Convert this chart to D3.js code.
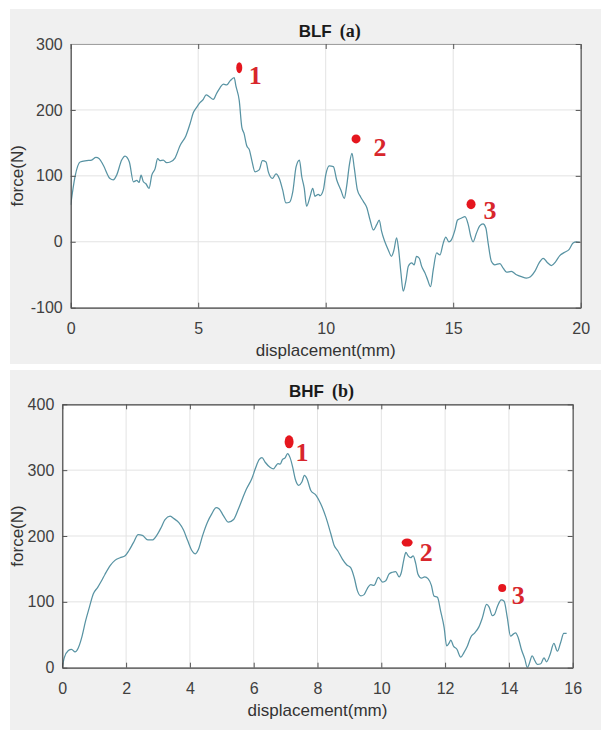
<!DOCTYPE html>
<html>
<head>
<meta charset="utf-8">
<script src="https://cdn.jsdelivr.net/npm/d3@7/dist/d3.min.js"></script>
<style>
  html, body { margin: 0; padding: 0; background: #ffffff; }
  svg { display: block; }
</style>
</head>
<body>
<svg id="chart" width="601" height="733"></svg>
<script>
// ---------------- DATA ----------------
const blfX = [0,0.17,0.37,0.63,0.82,0.99,1.12,1.28,1.54,1.67,
  1.8,2.0,2.13,2.3,2.46,2.59,2.68,2.76,2.85,2.95,
  3.07,3.18,3.31,3.41,3.5,3.63,3.76,3.9,4.09,4.29,
  4.52,4.68,4.81,4.94,5.07,5.2,5.31,5.44,5.59,5.72,
  5.86,5.99,6.12,6.25,6.41,6.48,6.61,6.71,6.8,6.9,
  7.01,7.1,7.23,7.39,7.52,7.66,7.75,7.91,8.05,8.18,
  8.31,8.44,8.58,8.71,8.84,8.97,9.06,9.16,9.25,9.39,
  9.49,9.58,9.71,9.78,9.91,10.0,10.14,10.3,10.43,10.59,
  10.73,10.82,10.93,11.03,11.12,11.24,11.37,11.48,11.61,11.74,
  11.87,12.0,12.1,12.19,12.32,12.45,12.58,12.68,12.78,12.86,
  12.95,13.04,13.15,13.24,13.37,13.47,13.56,13.67,13.76,13.89,
  14.0,14.11,14.22,14.35,14.48,14.61,14.71,14.83,14.93,15.07,
  15.17,15.33,15.46,15.59,15.69,15.78,15.91,16.04,16.17,16.28,
  16.37,16.5,16.63,16.83,16.96,17.09,17.28,17.48,17.68,17.87,
  18.03,18.2,18.37,18.53,18.68,18.85,19.02,19.18,19.37,19.54,
  19.7,19.83,19.96];
const blfY = [56,99,121,123,124,128,126,116,96,94,
  101,124,130,121,91,93,90,101,91,88,
  81,101,111,126,123,124,120,121,127,146,
  161,179,196,204,211,216,223,220,216,225,
  234,239,238,244,249,236,214,174,164,146,
  139,124,106,109,123,121,106,96,103,96,
  79,59,60,76,114,124,99,81,54,69,
  81,69,72,70,79,101,115,114,94,79,
  66,84,117,134,112,79,68,61,52,33,
  18,26,33,16,0,-12,-22,-12,6,-12,
  -47,-75,-58,-37,-32,-35,-22,-25,-37,-47,
  -58,-68,-42,-17,-20,-2,7,0,3,18,
  33,36,38,26,8,0,13,24,27,21,
  -2,-30,-35,-33,-40,-46,-45,-50,-53,-55,
  -53,-45,-32,-25,-31,-36,-30,-21,-16,-12,
  -2,0,-1];

const bhfX = [0,0.06,0.19,0.29,0.4,0.5,0.61,0.73,0.85,0.97,
  1.11,1.23,1.34,1.5,1.65,1.81,1.97,2.09,2.23,2.38,
  2.51,2.68,2.82,2.96,3.1,3.22,3.38,3.51,3.66,3.8,
  3.93,4.06,4.16,4.27,4.4,4.55,4.69,4.82,4.92,5.05,
  5.21,5.37,5.52,5.65,5.78,5.94,6.05,6.17,6.26,6.36,
  6.52,6.62,6.69,6.76,6.83,6.9,6.99,7.06,7.14,7.22,
  7.3,7.41,7.51,7.59,7.67,7.79,7.95,8.1,8.26,8.42,
  8.52,8.63,8.78,8.92,9.04,9.15,9.25,9.36,9.46,9.57,
  9.67,9.77,9.91,10.04,10.14,10.24,10.35,10.45,10.56,10.63,
  10.71,10.77,10.84,10.92,11.0,11.08,11.15,11.26,11.36,11.47,
  11.57,11.65,11.76,11.86,11.97,12.05,12.12,12.18,12.26,12.37,
  12.49,12.59,12.7,12.8,12.93,13.06,13.17,13.3,13.38,13.48,
  13.55,13.64,13.76,13.85,13.95,14.05,14.14,14.21,14.29,14.39,
  14.5,14.58,14.63,14.73,14.81,14.89,15.0,15.1,15.18,15.29,
  15.41,15.52,15.62,15.72,15.81];
const bhfY = [1,15,26,28,24,30,46,71,92,112,
  122,132,142,155,163,167,170,178,190,202,
  201,194,194,201,213,225,230,226,220,209,
  193,178,173,180,201,221,234,243,241,231,
  221,225,241,257,272,287,302,316,319,312,
  304,302,306,310,309,316,319,325,319,305,
  287,277,282,292,287,269,262,249,229,203,
  186,178,165,156,152,137,117,109,111,121,
  126,125,137,130,132,142,145,146,138,145,
  165,175,170,167,170,158,142,136,138,135,
  125,109,107,86,61,33,37,42,33,28,
  16,23,33,46,53,62,76,96,92,79,
  81,93,103,101,76,48,51,53,46,28,
  13,0,5,18,11,5,6,15,9,20,
  37,25,38,52,52];

const blfPeakX = [6.61, 11.19, 15.7];
const blfPeakY = [264, 156, 57];
const bhfPeakX = [7.11, 10.81, 13.79];
const bhfPeakY = [343, 190, 121];
const peakLabels = ["1", "2", "3"];

const blfXTicks = [0, 5, 10, 15, 20];
const blfYTicks = [-100, 0, 100, 200, 300];
const bhfXTicks = [0, 2, 4, 6, 8, 10, 12, 14, 16];
const bhfYTicks = [0, 100, 200, 300, 400];

const titles = [["BLF", "(a)"], ["BHF", "(b)"]];
const xLabel = "displacement(mm)";
const yLabel = "force(N)";

// ---------------- LAYOUT / STYLE ----------------
const panels = [
  { bg: [10, 9, 591, 355], left: 70.7, right: 580.7, top: 44, bottom: 307.7,
    xDomain: [0, 20], yDomain: [-100, 300], xTicks: blfXTicks, yTicks: blfYTicks,
    xs: blfX, ys: blfY, px: blfPeakX, py: blfPeakY, title: titles[0],
    topColor: "#a0a0a0",
    markRx: [3, 4.5, 4.5], markRy: [5.5, 4.5, 5],
    labDx: [16, 24, 19], labDy: [8, 9, 6] },
  { bg: [10, 370, 591, 360], left: 62.3, right: 572.7, top: 404.3, bottom: 667.7,
    xDomain: [0, 16], yDomain: [0, 400], xTicks: bhfXTicks, yTicks: bhfYTicks,
    xs: bhfX, ys: bhfY, px: bhfPeakX, py: bhfPeakY, title: titles[1],
    topColor: "#444",
    markRx: [4.5, 5.5, 4], markRy: [6.5, 4, 4],
    labDx: [13, 19, 16], labDy: [11, 10, 7] }
];

const svg = d3.select("#chart");
const sans = "'Liberation Sans', Arial, Helvetica, sans-serif";
const serif = "'Liberation Serif', 'Times New Roman', serif";
const plainFmt = d => String(d);

panels.forEach((p, pi) => {
  const g = svg.append("g");
  g.append("rect").attr("x", p.bg[0]).attr("y", p.bg[1])
    .attr("width", p.bg[2]).attr("height", p.bg[3]).attr("fill", "#f0f0f0");

  const x = d3.scaleLinear().domain(p.xDomain).range([p.left, p.right]);
  const y = d3.scaleLinear().domain(p.yDomain).range([p.bottom, p.top]);

  g.append("rect").attr("x", p.left).attr("y", p.top)
    .attr("width", p.right - p.left).attr("height", p.bottom - p.top).attr("fill", "#ffffff");

  // grid
  const grid = g.append("g").attr("stroke", "#e3e3e3").attr("stroke-width", 1);
  p.xTicks.forEach(t => grid.append("line")
    .attr("x1", x(t)).attr("x2", x(t)).attr("y1", p.top).attr("y2", p.bottom));
  p.yTicks.forEach(t => grid.append("line")
    .attr("x1", p.left).attr("x2", p.right).attr("y1", y(t)).attr("y2", y(t)));

  // clip
  const clipId = "clip" + pi;
  svg.append("defs").append("clipPath").attr("id", clipId)
    .append("rect").attr("x", p.left).attr("y", p.top - 1)
    .attr("width", p.right - p.left).attr("height", p.bottom - p.top + 1);

  const pts = p.xs.map((v, i) => [v, p.ys[i]]);
  const line = d3.line().x(d => x(d[0])).y(d => y(d[1])).curve(d3.curveMonotoneX);
  g.append("path").datum(pts).attr("d", line)
    .attr("clip-path", "url(#" + clipId + ")")
    .attr("fill", "none").attr("stroke", "#5893a3").attr("stroke-width", 1.25)
    .attr("stroke-linejoin", "round");

  // axes
  const styleAxis = (sel, color) => {
    sel.select(".domain").attr("stroke", color).attr("stroke-width", 1.2);
    sel.selectAll(".tick line").attr("stroke", "#555");
    sel.selectAll(".tick text").attr("fill", "#404040")
      .style("font-family", sans).style("font-size", "16px");
  };
  const ax = g.append("g").attr("transform", `translate(0,${p.bottom})`)
    .call(d3.axisBottom(x).tickValues(p.xTicks).tickFormat(plainFmt)
      .tickSize(-5).tickSizeOuter(0).tickPadding(14.5));
  styleAxis(ax, "#444");
  const ay = g.append("g").attr("transform", `translate(${p.left},0)`)
    .call(d3.axisLeft(y).tickValues(p.yTicks).tickFormat(plainFmt)
      .tickSize(-5).tickSizeOuter(0).tickPadding(8));
  styleAxis(ay, "#444");
  const at = g.append("g").attr("transform", `translate(0,${p.top})`)
    .call(d3.axisTop(x).tickValues(p.xTicks).tickSize(-5).tickSizeOuter(0).tickFormat(""));
  styleAxis(at, p.topColor);
  const ar = g.append("g").attr("transform", `translate(${p.right},0)`)
    .call(d3.axisRight(y).tickValues(p.yTicks).tickSize(-5).tickSizeOuter(0).tickFormat(""));
  styleAxis(ar, "#555");

  // axis labels
  const cx = (p.left + p.right) / 2;
  const cy = (p.top + p.bottom) / 2;
  g.append("text").attr("x", cx).attr("y", p.bottom + 43)
    .attr("text-anchor", "middle").attr("dominant-baseline", "central")
    .style("font-family", sans).style("font-size", "17px").attr("fill", "#333")
    .text(xLabel);
  g.append("text").attr("transform", `translate(17.5,${cy}) rotate(-90)`)
    .attr("text-anchor", "middle").attr("dominant-baseline", "central")
    .style("font-family", sans).style("font-size", "17px").attr("fill", "#333")
    .text(yLabel);

  // title
  const tt = g.append("text").attr("x", cx + 4).attr("y", p.top - 7)
    .attr("text-anchor", "middle").attr("fill", "#1a1a1a").style("font-weight", "bold");
  tt.append("tspan").style("font-family", sans).style("font-size", "17px").text(p.title[0]);
  tt.append("tspan").attr("dx", 8).style("font-family", serif).style("font-size", "18px").text(p.title[1]);

  // peak markers and labels
  p.px.forEach((v, i) => {
    const mx = x(v), my = y(p.py[i]);
    g.append("ellipse").attr("cx", mx).attr("cy", my)
      .attr("rx", p.markRx[i]).attr("ry", p.markRy[i]).attr("fill", "#e5161e");
    g.append("text").attr("x", mx + p.labDx[i]).attr("y", my + p.labDy[i])
      .attr("text-anchor", "middle").attr("dominant-baseline", "central")
      .style("font-family", serif).style("font-weight", "bold").style("font-size", "26px")
      .attr("fill", "#d8262c").text(peakLabels[i]);
  });
});
</script>
</body>
</html>
